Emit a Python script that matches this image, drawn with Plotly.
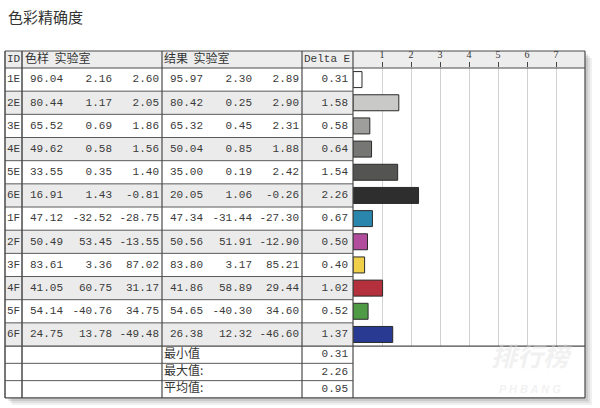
import plotly.graph_objects as go

# ---------------- data ----------------
ids = ["1E", "2E", "3E", "4E", "5E", "6E", "1F", "2F", "3F", "4F", "5F", "6F"]
sample_L = [96.04, 80.44, 65.52, 49.62, 33.55, 16.91, 47.12, 50.49, 83.61, 41.05, 54.14, 24.75]
sample_a = [2.16, 1.17, 0.69, 0.58, 0.35, 1.43, -32.52, 53.45, 3.36, 60.75, -40.76, 13.78]
sample_b = [2.60, 2.05, 1.86, 1.56, 1.40, -0.81, -28.75, -13.55, 87.02, 31.17, 34.75, -49.48]
result_L = [95.97, 80.42, 65.32, 50.04, 35.00, 20.05, 47.34, 50.56, 83.80, 41.86, 54.65, 26.38]
result_a = [2.30, 0.25, 0.45, 0.85, 0.19, 1.06, -31.44, 51.91, 3.17, 58.89, -40.30, 12.32]
result_b = [2.89, 2.90, 2.31, 1.88, 2.42, -0.26, -27.30, -12.90, 85.21, 29.44, 34.60, -46.60]
delta_e = [0.31, 1.58, 0.58, 0.64, 1.54, 2.26, 0.67, 0.50, 0.40, 1.02, 0.52, 1.37]
summary_labels = ["最小值", "最大值:", "平均值:"]
summary_values = [0.31, 2.26, 0.95]
axis_ticks = [1, 2, 3, 4, 5, 6, 7]
header_labels = ["ID", "色样\u00a0\u00a0实验室", "结果\u00a0\u00a0实验室", "Delta E"]
title_text = "色彩精确度"

# ---------------- style / layout ----------------
bar_colors = ["#ffffff", "#c9c9c7", "#9e9e9c", "#767674", "#545452", "#2e2e2e",
              "#2a86ad", "#b24d9e", "#f0d04a", "#b3303c", "#4e9a45", "#283a92"]
W, H = 600, 408
TOP, HEAD_H, ROW_H, SUM_H = 51, 17, 23.17, 17.3
X_LEFT, X_ID, X_SAMPLE, X_RESULT, X_DELTA, X_RIGHT = 5, 22, 162, 302, 353, 585
X_MAX = 8
NUM_FONT = dict(family="Liberation Mono", size=11, color="#3a3a3a")
CJK_FONT = dict(family="Noto Sans CJK SC", size=12, color="#333333")
LINE_DARK = "#4a4a4a"
LINE_ROW = "#5a5a5a"

n = len(ids)
data_top = TOP + HEAD_H
data_bottom = data_top + n * ROW_H
bottom = data_bottom + len(summary_labels) * SUM_H
row_centers = [data_top + ROW_H * (i + 0.5) for i in range(n)]
sum_centers = [data_bottom + SUM_H * (k + 0.5) for k in range(len(summary_labels))]
head_center = TOP + HEAD_H / 2

fig = go.Figure()

shapes = []
# shadow
for off, alpha in [(7, 0.06), (5, 0.07), (3, 0.09)]:
    shapes.append(dict(type="rect", xref="x", yref="y", x0=X_LEFT + off, x1=X_RIGHT + off,
                       y0=TOP + off, y1=bottom + off, line=dict(width=0),
                       fillcolor=f"rgba(0,0,0,{alpha})", layer="below"))
# white table background
shapes.append(dict(type="rect", xref="x", yref="y", x0=X_LEFT, x1=X_RIGHT, y0=TOP, y1=bottom,
                   line=dict(width=0), fillcolor="#ffffff", layer="below"))
# header background
shapes.append(dict(type="rect", xref="x", yref="y", x0=X_LEFT, x1=X_RIGHT, y0=TOP, y1=data_top,
                   line=dict(width=0), fillcolor="#ededed", layer="below"))
# alternate row shading
for i in range(n):
    if i % 2 == 1:
        shapes.append(dict(type="rect", xref="x", yref="y", x0=X_LEFT, x1=X_DELTA,
                           y0=data_top + i * ROW_H, y1=data_top + (i + 1) * ROW_H,
                           line=dict(width=0), fillcolor="#ebebeb", layer="below"))


def hline(y, x0, x1, color=LINE_ROW, w=1):
    shapes.append(dict(type="line", xref="x", yref="y", x0=x0, x1=x1, y0=y, y1=y,
                       line=dict(color=color, width=w)))


def vline(x, y0, y1, color=LINE_DARK, w=1.2):
    shapes.append(dict(type="line", xref="x", yref="y", x0=x, x1=x, y0=y0, y1=y1,
                       line=dict(color=color, width=w)))


# horizontal rules
hline(TOP, X_LEFT, X_RIGHT, LINE_DARK, 1.2)
hline(data_top, X_LEFT, X_RIGHT, LINE_DARK, 1)
for i in range(1, n):
    hline(data_top + i * ROW_H, X_LEFT, X_DELTA)
hline(data_bottom, X_LEFT, X_RIGHT, LINE_DARK, 1.2)
for k in range(1, len(summary_labels)):
    hline(data_bottom + k * SUM_H, X_LEFT, X_DELTA)
hline(bottom, X_LEFT, X_RIGHT, LINE_DARK, 1.2)
# vertical rules
vline(X_LEFT, TOP, bottom, w=1.5)
vline(X_ID, TOP, bottom, w=1.5)
vline(X_SAMPLE, TOP, bottom)
vline(X_RESULT, TOP, bottom)
vline(X_DELTA, TOP, bottom)
vline(X_RIGHT, TOP, bottom, w=1.2)

# ---------------- text traces ----------------
def text_trace(xs, ys, texts, pos, font):
    fig.add_trace(go.Scatter(x=xs, y=ys, text=texts, mode="text", textposition=pos,
                             textfont=font, hoverinfo="skip", showlegend=False,
                             xaxis="x", yaxis="y", cliponaxis=False))


text_trace([X_LEFT + 2] * n, row_centers, ids, "middle right", NUM_FONT)
columns = [(sample_L, 63), (sample_a, 112), (sample_b, 159),
           (result_L, 203), (result_a, 252), (result_b, 299), (delta_e, 348)]
for vals, xr in columns:
    text_trace([xr] * n, row_centers, [f"{v:.2f}" for v in vals], "middle left", NUM_FONT)

# headers
text_trace([X_LEFT + 2], [head_center], [header_labels[0]], "middle right", NUM_FONT)
text_trace([X_ID + 3], [head_center], [header_labels[1]], "middle right", CJK_FONT)
text_trace([X_SAMPLE + 2], [head_center], [header_labels[2]], "middle right", CJK_FONT)
text_trace([X_RESULT + 2], [head_center], [header_labels[3]], "middle right", NUM_FONT)

# summary rows
text_trace([X_SAMPLE + 2] * len(summary_labels), sum_centers, summary_labels,
           "middle right", CJK_FONT)
text_trace([348] * len(summary_values), sum_centers,
           [f"{v:.2f}" for v in summary_values], "middle left", NUM_FONT)

# ---------------- bars ----------------
fig.add_trace(go.Bar(x=delta_e, y=ids, orientation="h", xaxis="x2", yaxis="y2",
                     marker=dict(color=bar_colors, line=dict(color="#2a2a2a", width=1)),
                     width=0.69, hoverinfo="skip", showlegend=False))

fig.update_layout(
    width=W, height=H,
    margin=dict(l=0, r=0, t=0, b=0),
    paper_bgcolor="#ffffff",
    plot_bgcolor="rgba(0,0,0,0)",
    shapes=shapes,
    xaxis=dict(range=[0, W], domain=[0, 1], visible=False, anchor="y", fixedrange=True),
    yaxis=dict(range=[H, 0], domain=[0, 1], visible=False, anchor="x", fixedrange=True),
    xaxis2=dict(range=[0, X_MAX], domain=[X_DELTA / W, X_RIGHT / W], anchor="y2",
                side="top", tickvals=axis_ticks, ticks="outside", ticklen=5,
                tickcolor="#444444", tickwidth=1, showgrid=True, gridcolor="#d2d2d2",
                gridwidth=1, zeroline=False, showline=False,
                tickfont=dict(family="Liberation Serif", size=10, color="#333333"),
                fixedrange=True),
    yaxis2=dict(type="category", range=[n - 0.5, -0.5],
                domain=[(H - data_bottom) / H, (H - data_top) / H], anchor="x2",
                visible=False, fixedrange=True),
    annotations=[
        dict(text=title_text, xref="x", yref="y", x=6, y=16, xanchor="left", yanchor="middle",
             showarrow=False, font=dict(family="Noto Sans CJK SC", size=15, color="#333333")),
        dict(text="<b><i>排行榜</i></b>", xref="x", yref="y", x=532, y=354, showarrow=False,
             font=dict(family="Noto Sans CJK SC", size=26, color="rgba(225,225,225,0.45)")),
        dict(text="<b><i>P H B A N G</i></b>", xref="x", yref="y", x=530, y=389, showarrow=False,
             font=dict(family="Liberation Sans", size=11, color="rgba(225,225,225,0.45)")),
    ],
)

fig.write_html("out.html", config={"displayModeBar": False},
               post_script="document.body.style.margin='0px';document.body.style.padding='0px';")
